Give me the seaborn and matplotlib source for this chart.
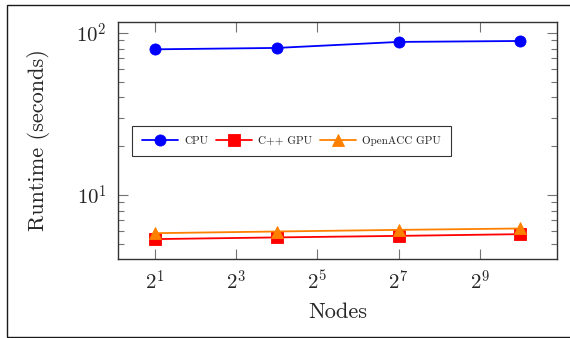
import numpy as np
import pandas as pd
import matplotlib
matplotlib.use('Agg')
import matplotlib.pyplot as plt
import matplotlib.ticker as mticker
from matplotlib.patches import Rectangle
import seaborn as sns

# data
nodes = [2, 16, 128, 1024]
cpu = [79.3, 80.9, 88.1, 89.3]
cpp_gpu = [5.34, 5.47, 5.59, 5.73]
openacc_gpu = [5.81, 5.95, 6.09, 6.21]
series_names = ['CPU', 'C++ GPU', 'OpenACC GPU']
x_ticks = [2, 8, 32, 128, 512]
x_tick_labels = [r'$2^{1}$', r'$2^{3}$', r'$2^{5}$', r'$2^{7}$', r'$2^{9}$']

df = pd.DataFrame({
    'Nodes': nodes * 3,
    'Runtime': cpu + cpp_gpu + openacc_gpu,
    'Series': [s for s in series_names for _ in nodes],
})

sns.set_style('ticks')
plt.rcParams['font.family'] = ['cmr10', 'DejaVu Serif']
plt.rcParams['mathtext.fontset'] = 'cm'
plt.rcParams['axes.formatter.use_mathtext'] = True

fig = plt.figure(figsize=(5.7, 3.38), dpi=100)
ax = fig.add_axes([0.207, 0.234, 0.770, 0.701])

palette = {'CPU': '#0000ff', 'C++ GPU': '#ff0000', 'OpenACC GPU': '#ff8000'}
markers = {'CPU': 'o', 'C++ GPU': 's', 'OpenACC GPU': '^'}
sns.lineplot(data=df, x='Nodes', y='Runtime', hue='Series', style='Series',
             palette=palette, markers=markers, dashes=False, markersize=8,
             markeredgewidth=0.6, linewidth=1.3, ax=ax)
for ln in ax.lines:
    ln.set_markeredgecolor(ln.get_color())

ax.set_xscale('log', base=2)
ax.set_yscale('log')
ax.set_xlim(2 ** 0.09, 2 ** 10.9)
ax.set_ylim(4.03, 117)
ax.xaxis.set_major_locator(mticker.FixedLocator(x_ticks))
ax.xaxis.set_major_formatter(mticker.FixedFormatter(x_tick_labels))
ax.xaxis.set_minor_locator(mticker.NullLocator())
ax.yaxis.set_major_locator(mticker.FixedLocator([10, 100]))
ax.yaxis.set_major_formatter(mticker.FixedFormatter([r'$10^{1}$', r'$10^{2}$']))
ax.yaxis.set_minor_locator(mticker.LogLocator(base=10, subs=np.arange(2, 10)))
ax.yaxis.set_minor_formatter(mticker.NullFormatter())

ax.tick_params(which='both', direction='in', top=True, right=True,
               color='0.45', width=0.8)
ax.tick_params(which='major', length=7, labelsize=15, pad=8)
ax.tick_params(which='minor', length=4)
for sp in ax.spines.values():
    sp.set_linewidth(1.0)
    sp.set_color('0.2')

ax.set_xlabel('Nodes', fontsize=16, labelpad=6)
ax.set_ylabel('Runtime (seconds)', fontsize=16, labelpad=19)

leg = ax.legend(loc='center left', bbox_to_anchor=(0.032, 0.498), ncol=3,
                fontsize=8, frameon=True, fancybox=False, edgecolor='black',
                handlelength=3.2, columnspacing=0.7, handletextpad=0.6,
                borderpad=0.9, borderaxespad=0)
leg.get_frame().set_linewidth(0.8)

fig.patches.append(Rectangle((0.0123, 0.003), 1.2, 0.982, transform=fig.transFigure,
                             fill=False, edgecolor='0.1', linewidth=1.0))

fig.savefig('out.png', dpi=100)
